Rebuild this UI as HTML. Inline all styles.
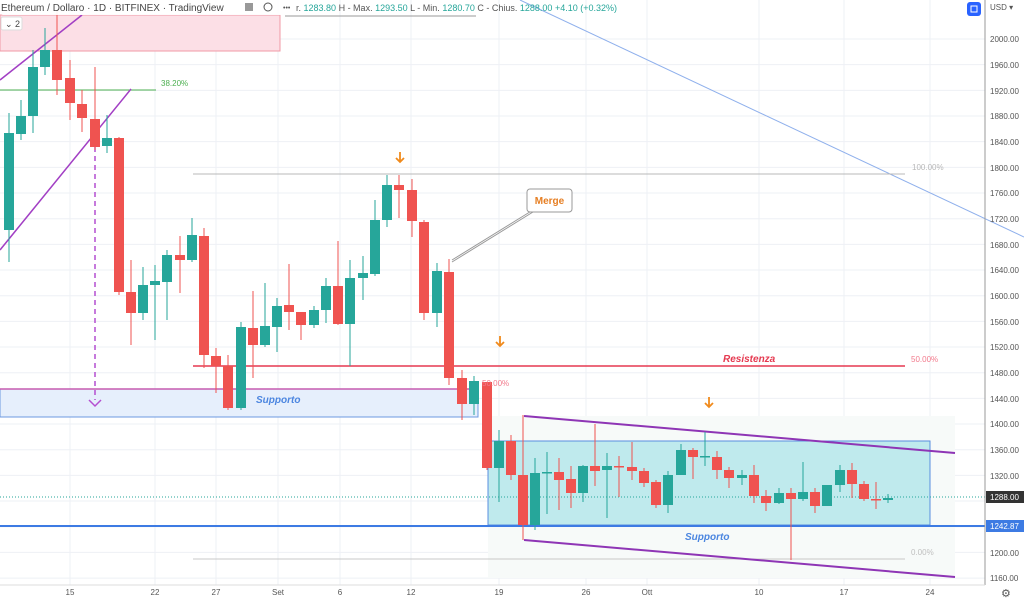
<!DOCTYPE html>
<html><head><meta charset="utf-8"><style>
html,body{margin:0;padding:0;background:#fff;overflow:hidden}
svg{display:block;font-family:"Liberation Sans",sans-serif}
</style></head><body>
<svg id="s" width="1024" height="599" viewBox="0 0 1024 599" xmlns="http://www.w3.org/2000/svg">
<g id="grid" stroke="#eef0f5" stroke-width="1"></g>
<line x1="520" y1="0" x2="1024" y2="237" stroke="#8fb0ec" stroke-width="1"/>
<rect x="0" y="15" width="280" height="36" fill="#fcdfe6" stroke="#f09aa6" stroke-width="1"/>
<rect x="0" y="389" width="478" height="28" fill="#e6effc" stroke="#6c98e0" stroke-width="1"/>
<line x1="0" y1="389" x2="478" y2="389" stroke="#c55bb0" stroke-width="1.5"/>
<rect x="488" y="416" width="467" height="162" fill="#f7faf9"/>
<rect x="488" y="441" width="442" height="84" fill="#bfeaed" stroke="#5a8fe0" stroke-width="1"/>
<line x1="0" y1="90" x2="156" y2="90" stroke="#4caf50" stroke-width="1"/>
<text x="161" y="86" font-size="8" fill="#4caf50">38.20%</text>
<line x1="193" y1="174" x2="905" y2="174" stroke="#b8b8b8" stroke-width="1"/>
<text x="912" y="170" font-size="8" fill="#b8b8b8">100.00%</text>
<line x1="193" y1="366" x2="905" y2="366" stroke="#e53950" stroke-width="1.5"/>
<text x="911" y="362" font-size="8" fill="#f27a8c">50.00%</text>
<text x="723" y="362" font-size="10" font-style="italic" font-weight="bold" fill="#e53950">Resistenza</text>
<line x1="193" y1="559" x2="905" y2="559" stroke="#c8c8c8" stroke-width="1"/>
<text x="911" y="555" font-size="8" fill="#c0c0c0">0.00%</text>
<line x1="0" y1="526" x2="985" y2="526" stroke="#3d7be3" stroke-width="2"/>
<line x1="0" y1="497" x2="985" y2="497" stroke="#26a69a" stroke-width="1" stroke-dasharray="1,2"/>
<line x1="0" y1="80" x2="82" y2="15" stroke="#a23fc4" stroke-width="1.5"/>
<line x1="0" y1="250" x2="131" y2="89" stroke="#a23fc4" stroke-width="1.5"/>
<line x1="95" y1="147" x2="95" y2="400" stroke="#b44fd0" stroke-width="1.5" stroke-dasharray="5,4"/>
<polyline points="89,400 95,406 101,400" fill="none" stroke="#b44fd0" stroke-width="1.5"/>
<line x1="524" y1="416" x2="955" y2="453" stroke="#8e35b5" stroke-width="2"/>
<line x1="524" y1="540" x2="955" y2="577" stroke="#8e35b5" stroke-width="2"/>
<g id="c"></g>
<text x="256" y="403" font-size="10" font-style="italic" font-weight="bold" fill="#4c86e0">Supporto</text>
<text x="685" y="540" font-size="10" font-style="italic" font-weight="bold" fill="#4c86e0">Supporto</text>
<text x="482" y="386" font-size="8" fill="#f27a8c">50.00%</text>
<g fill="none" stroke="#f08a1c" stroke-width="1.8">
<path d="M400 152v10M396 158l4 4 4-4"/><path d="M500 336v10M496 342l4 4 4-4"/><path d="M709 397v10M705 403l4 4 4-4"/></g>
<line x1="452" y1="260" x2="533" y2="210" stroke="#999" stroke-width="1"/>
<line x1="452" y1="262" x2="533" y2="212" stroke="#999" stroke-width="1"/>
<rect x="527" y="189" width="45" height="23" rx="3" fill="#fff" stroke="#999"/>
<text x="549.5" y="204" font-size="10" font-weight="bold" fill="#e67e22" text-anchor="middle">Merge</text>
<rect x="0" y="0" width="290" height="15" rx="3" fill="#fff" opacity="0.92"/>
<line x1="285" y1="16" x2="476" y2="16" stroke="#999"/>
<text x="1" y="11" font-size="10" fill="#444">Ethereum / Dollaro · 1D · BITFINEX · TradingView</text>
<rect x="245" y="3" width="8" height="8" fill="#999"/>
<circle cx="268" cy="7" r="4" fill="none" stroke="#555"/>
<text x="283" y="10" font-size="7" fill="#555">•••</text>
<text x="296" y="11" font-size="9" fill="#555">r. <tspan fill="#26a69a">1283.80</tspan> H - Max. <tspan fill="#26a69a">1293.50</tspan> L - Min. <tspan fill="#26a69a">1280.70</tspan> C - Chius. <tspan fill="#26a69a">1288.00</tspan> <tspan fill="#26a69a">+4.10 (+0.32%)</tspan></text>
<rect x="1" y="17" width="21" height="13" rx="2" fill="#fff" stroke="#ddd"/>
<text x="5" y="27" font-size="9" fill="#444">⌄ 2</text>
<line x1="985" y1="0" x2="985" y2="585" stroke="#999" stroke-width="1"/>
<line x1="0" y1="585" x2="985" y2="585" stroke="#ddd"/>
<rect x="967" y="2" width="14" height="14" rx="3" fill="#2962ff"/>
<rect x="971" y="6" width="6" height="6" fill="none" stroke="#fff"/>
<text x="990" y="10" font-size="8" fill="#555">USD ▾</text>
<g font-size="8" fill="#555">
<text x="990" y="42">2000.00</text><text x="990" y="68">1960.00</text><text x="990" y="94">1920.00</text><text x="990" y="119">1880.00</text><text x="990" y="145">1840.00</text><text x="990" y="171">1800.00</text><text x="990" y="196">1760.00</text><text x="990" y="222">1720.00</text><text x="990" y="248">1680.00</text><text x="990" y="273">1640.00</text><text x="990" y="299">1600.00</text><text x="990" y="325">1560.00</text><text x="990" y="350">1520.00</text><text x="990" y="376">1480.00</text><text x="990" y="402">1440.00</text><text x="990" y="427">1400.00</text><text x="990" y="453">1360.00</text><text x="990" y="479">1320.00</text><text x="990" y="556">1200.00</text><text x="990" y="581">1160.00</text>
</g>
<rect x="986" y="491" width="38" height="12" fill="#333"/>
<text x="990" y="500" font-size="8" fill="#fff">1288.00</text>
<rect x="986" y="520" width="38" height="12" fill="#3d7be3"/>
<text x="990" y="529" font-size="8" fill="#fff">1242.87</text>
<g font-size="8" fill="#555" text-anchor="middle">
<text x="70" y="595">15</text><text x="155" y="595">22</text><text x="216" y="595">27</text><text x="278" y="595">Set</text><text x="340" y="595">6</text><text x="411" y="595">12</text><text x="499" y="595">19</text><text x="586" y="595">26</text><text x="647" y="595">Ott</text><text x="759" y="595">10</text><text x="844" y="595">17</text><text x="930" y="595">24</text>
</g>
<text x="1001" y="597" font-size="11" fill="#555">⚙</text>
</svg>
<script>
var NS="http://www.w3.org/2000/svg",g=document.getElementById('grid'),c=document.getElementById('c');
function el(p,t,a){var e=document.createElementNS(NS,t);for(var k in a)e.setAttribute(k,a[k]);p.appendChild(e);return e;}
[70,155,216,278,340,411,499,586,647,759,844,930].forEach(function(x){el(g,'line',{x1:x,y1:0,x2:x,y2:585});});
for(var i=0;i<23;i++){var y=39+i*25.67;el(g,'line',{x1:0,y1:y,x2:985,y2:y});}
var C=[[9,133,230,1,113,262],[21,116,134,1,100,140],[33,67,116,1,50,133],[45,50,67,1,28,75],[57,50,80,0,10,95],[70,78,103,0,60,120],[82,104,118,0,90,132],[95,119,147,0,67,150],[107,138,146,1,115,153],[119,138,292,0,137,295],[131,292,313,0,260,345],[143,285,313,1,267,320],[155,281,285,1,265,340],[167,255,282,1,250,320],[180,255,260,0,236,293],[192,235,260,1,218,262],[204,236,355,0,228,368],[216,356,366,0,348,393],[228,366,408,0,355,410],[241,327,408,1,322,410],[253,328,345,0,291,378],[265,326,345,1,283,347],[277,306,327,1,298,352],[289,305,312,0,264,330],[301,312,325,0,312,340],[314,310,325,1,306,328],[326,286,310,1,278,323],[338,286,324,0,241,325],[350,278,324,1,260,366],[363,273,278,1,256,300],[375,220,274,1,200,276],[387,185,220,1,175,227],[399,185,190,0,175,218],[412,190,221,0,179,237],[424,222,313,0,220,320],[437,271,313,1,263,327],[449,272,378,0,259,385],[462,378,404,0,370,420],[474,381,404,1,376,415],[487,382,468,0,382,470],[499,441,468,1,430,502],[511,441,475,0,435,480],[523,475,525,0,415,540],[535,473,525,1,458,530],[547,472,473,1,452,514],[559,472,480,0,458,510],[571,479,493,0,466,508],[583,466,493,1,465,502],[595,466,471,0,424,486],[607,466,470,1,453,518],[619,466,467,0,456,497],[632,467,471,0,442,480],[644,471,483,0,468,487],[656,482,505,0,480,508],[668,475,505,1,471,513],[681,450,475,1,444,475],[693,450,457,0,448,479],[705,456,457,1,432,466],[717,457,470,0,451,479],[729,470,478,0,467,488],[742,475,478,1,470,485],[754,475,496,0,465,503],[766,496,503,0,490,511],[779,493,503,1,488,504],[791,493,499,0,488,560],[803,492,499,1,462,501],[815,492,506,0,488,513],[827,485,506,1,485,506],[840,470,485,1,465,492],[852,470,484,0,463,498],[864,484,499,0,481,501],[876,499,500,0,482,509],[888,498,500,1,494,503]];
C.forEach(function(d){var col=d[3]?'#26a69a':'#ef5350';
el(c,'line',{x1:d[0],y1:d[4],x2:d[0],y2:d[5],stroke:col,'stroke-width':1});
el(c,'rect',{x:d[0]-5,y:d[1],width:10,height:Math.max(1.5,d[2]-d[1]),fill:col});});
</script>
</body></html>
